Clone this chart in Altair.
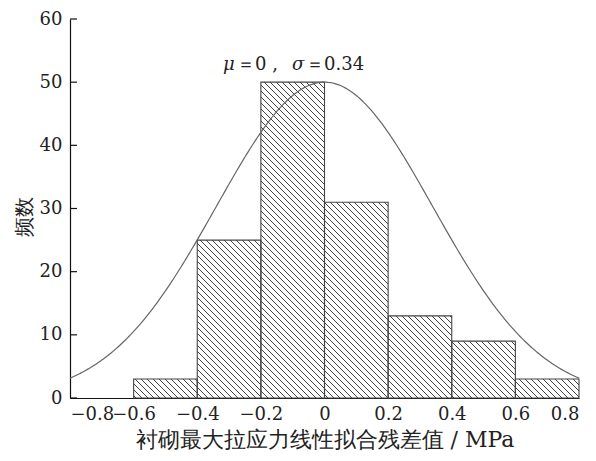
import altair as alt
import numpy as np
import pandas as pd

# ---- data ----
bin_start = [-0.6, -0.4, -0.2, 0.0, 0.2, 0.4, 0.6]
bin_end = [-0.4, -0.2, 0.0, 0.2, 0.4, 0.6, 0.8]
counts = [3, 25, 50, 31, 13, 9, 3]

x_ticks = [-0.8, -0.6, -0.4, -0.2, 0.0, 0.2, 0.4, 0.6, 0.8]
y_ticks = [0, 10, 20, 30, 40, 50, 60]

mu = 0.0
sigma = 0.34
peak = 50.0

x_title = "衬砌最大拉应力线性拟合残差值 / MPa"
y_title = "频数"

# ---- geometry / style ----
W, H = 509, 379
XMIN, XMAX, YMAX = -0.8, 0.8, 60
S = 6.0  # hatch spacing in px (horizontal)
FONT = "DejaVu Serif"

bars = pd.DataFrame({"start": bin_start, "end": bin_end, "count": counts})
ticks_df = pd.DataFrame({"v": y_ticks})

# hatch segments (lines u + v = c in pixel space) clipped to each bar
rows = []
seg = 0
for s0, s1, n in zip(bin_start, bin_end, counts):
    u0 = (s0 - XMIN) / (XMAX - XMIN) * W
    u1 = (s1 - XMIN) / (XMAX - XMIN) * W
    vh = n / YMAX * H
    for k in range(int(np.ceil(u0 / S)), int(np.floor((u1 + vh) / S)) + 1):
        c = k * S
        ua, ub = max(u0, c - vh), min(u1, c)
        if ub - ua < 0.3:
            continue
        for j, (u, v) in enumerate([(ua, c - ua), (ub, c - ub)]):
            rows.append({"seg": seg, "o": j,
                         "hx": XMIN + u / W * (XMAX - XMIN),
                         "hy": v / H * YMAX})
        seg += 1
hatch_df = pd.DataFrame(rows)

xs = alt.Scale(domain=[XMIN, XMAX], nice=False, zero=False)
ys = alt.Scale(domain=[0, YMAX], nice=False)

outline = alt.Chart(bars).mark_rect(fillOpacity=0, stroke="#444", strokeWidth=1.1).encode(
    x=alt.X("start:Q", scale=xs,
            axis=alt.Axis(values=x_ticks, format="~g", ticks=False, grid=False,
                          labelOverlap=False,
                          labelFont=FONT, labelFontSize=18, labelColor="#222",
                          labelPadding=7, domainColor="#111", domainWidth=1.2,
                          title=x_title, titleFont=FONT, titleFontSize=22,
                          titleFontWeight="normal", titleColor="#222", titlePadding=6)),
    x2="end:Q",
    y=alt.Y("count:Q", scale=ys,
            axis=alt.Axis(values=y_ticks, ticks=False, grid=False,
                          labelOverlap=False,
                          labelFont=FONT, labelFontSize=18, labelColor="#222",
                          labelPadding=8, domainColor="#111", domainWidth=1.2,
                          title=y_title, titleFont=FONT, titleFontSize=20,
                          titleFontWeight="normal", titleColor="#222",
                          titleX=-46, titleY=H / 2 + 8, titleBaseline="middle")),
    y2=alt.datum(0),
)

hatch = alt.Chart(hatch_df).mark_line(color="#444", strokeWidth=1.0).encode(
    x=alt.X("hx:Q", scale=xs),
    y=alt.Y("hy:Q", scale=ys),
    detail="seg:N",
    order="o:Q",
)

curve = (
    alt.Chart(alt.sequence(start=XMIN, stop=XMAX + 0.001, step=0.005, as_="xv"))
    .transform_calculate(yv=f"{peak} * exp(-pow(datum.xv - ({mu}), 2) / (2 * {sigma} * {sigma}))")
    .mark_line(color="#666", strokeWidth=1.2)
    .encode(x=alt.X("xv:Q", scale=xs), y=alt.Y("yv:Q", scale=ys))
)

yticks = alt.Chart(ticks_df).mark_rule(color="#111", strokeWidth=1.2).encode(
    x=alt.value(0), x2=alt.value(7), y=alt.Y("v:Q", scale=ys)
)

ann_style = dict(fontSize=18, color="#222", baseline="middle", align="left", font=FONT)
one = alt.Data(values=[{}])
ann = (
    alt.Chart(one).mark_text(text="μ", fontStyle="italic", **ann_style)
    .encode(x=alt.value(153), y=alt.value(46))
    + alt.Chart(one).mark_text(text="＝0 ,", **ann_style)
    .encode(x=alt.value(167), y=alt.value(46))
    + alt.Chart(one).mark_text(text="σ", fontStyle="italic", **ann_style)
    .encode(x=alt.value(222), y=alt.value(46))
    + alt.Chart(one).mark_text(text="＝0.34", **ann_style)
    .encode(x=alt.value(236), y=alt.value(46))
)

chart = (
    alt.layer(hatch, outline, curve, yticks, ann)
    .properties(width=W, height=H,
                autosize=alt.AutoSizeParams(type="none"),
                padding={"left": 62, "top": 11, "right": 9, "bottom": 55},
                background="white")
    .configure_view(stroke=None)
)

chart.save("out.html", embed_options={"renderer": "svg", "actions": False})
